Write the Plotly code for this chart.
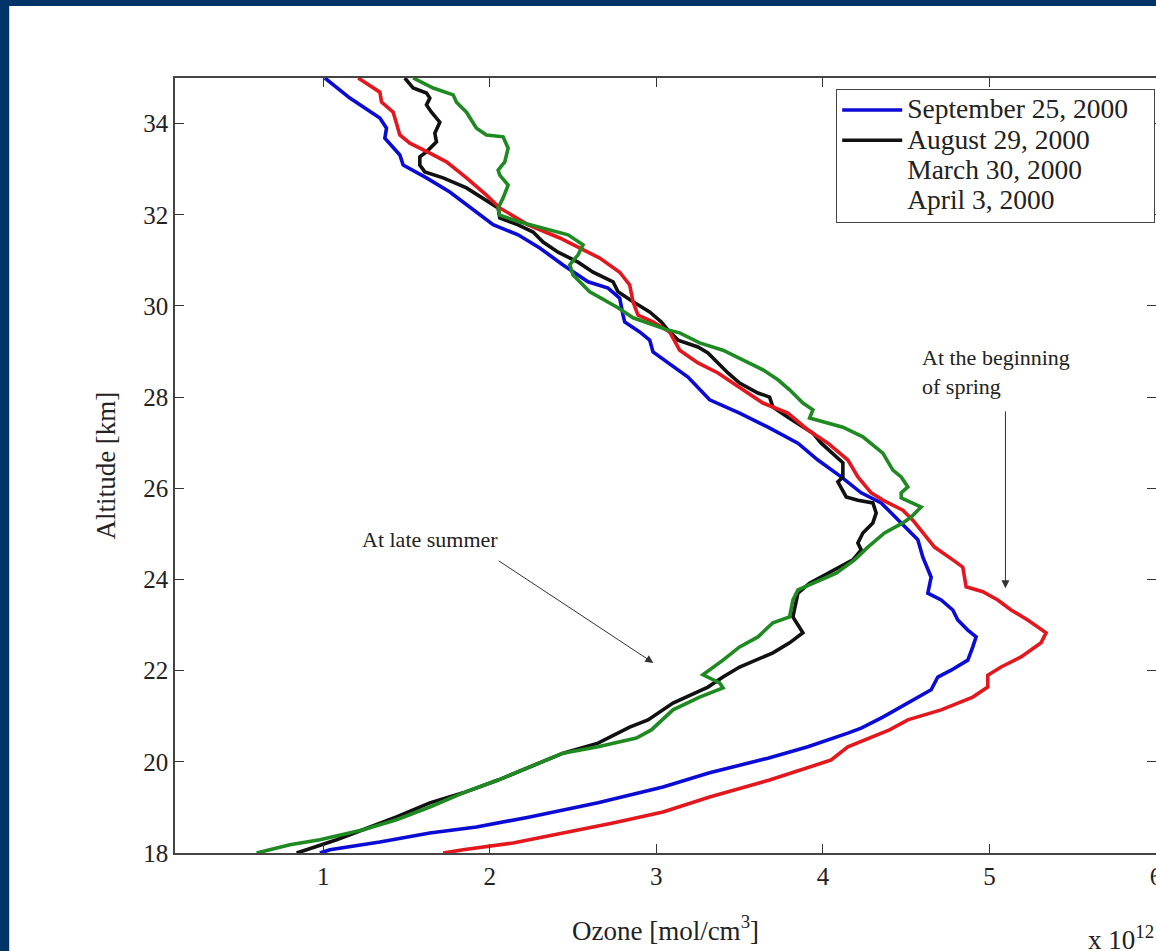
import plotly.graph_objects as go

# ---------------- data (ozone in 1e12 mol/cm^3, altitude in km) ----------------
alt_sep25 = [35.0, 34.56, 34.12, 33.90, 33.68, 33.31, 33.09, 32.81, 32.50, 32.06, 31.78, 31.56, 31.27,
             30.90, 30.53, 30.39, 30.17, 29.80, 29.65, 29.43, 29.25, 28.99, 28.44, 27.94, 27.65, 27.34,
             26.99, 26.62, 26.25, 25.90, 25.68, 25.24, 24.87, 24.49, 24.05, 23.70, 23.55, 23.33, 23.11,
             22.89, 22.74, 22.52, 22.23, 22.01, 21.86, 21.58, 21.29, 20.98, 20.74, 20.63, 20.33, 20.08,
             19.76, 19.45, 19.10, 18.79, 18.57, 18.44, 18.24, 18.07, 18.0]
oz_sep25 = [1.01, 1.16, 1.34, 1.38, 1.37, 1.46, 1.48, 1.62, 1.76, 1.92, 2.02, 2.17, 2.30,
            2.44, 2.59, 2.71, 2.78, 2.80, 2.81, 2.90, 2.96, 2.98, 3.19, 3.32, 3.50, 3.67,
            3.85, 3.97, 4.11, 4.23, 4.35, 4.47, 4.57, 4.60, 4.65, 4.63, 4.71, 4.78, 4.81,
            4.87, 4.92, 4.90, 4.87, 4.77, 4.69, 4.65, 4.51, 4.36, 4.23, 4.15, 3.91, 3.67,
            3.32, 3.04, 2.65, 2.24, 1.92, 1.64, 1.34, 1.04, 0.98]

alt_aug29 = [35.0, 34.78, 34.67, 34.56, 34.41, 34.25, 34.03, 33.79, 33.60, 33.38, 33.27, 33.09, 32.94,
             32.81, 32.59, 32.28, 32.15, 31.93, 31.78, 31.62, 31.40, 31.18, 30.96, 30.74, 30.53, 30.31,
             30.09, 29.87, 29.65, 29.47, 29.25, 29.10, 28.97, 28.75, 28.53, 28.31, 28.09, 28.00, 27.78,
             27.56, 27.34, 27.21, 26.99, 26.77, 26.56, 26.25, 26.14, 25.81, 25.74, 25.68, 25.46, 25.24,
             25.02, 24.80, 24.65, 24.43, 24.14, 23.92, 23.70, 23.18, 22.83, 22.61, 22.39, 22.08, 21.86,
             21.64, 21.29, 20.92, 20.76, 20.41, 20.19, 19.89, 19.60, 19.32, 19.10, 18.79, 18.51, 18.29,
             18.13, 18.0]
oz_aug29 = [1.49, 1.54, 1.62, 1.64, 1.62, 1.65, 1.70, 1.67, 1.68, 1.62, 1.58, 1.58, 1.61,
            1.72, 1.86, 2.00, 2.05, 2.06, 2.17, 2.26, 2.32, 2.41, 2.53, 2.62, 2.74, 2.77,
            2.86, 2.96, 3.03, 3.07, 3.13, 3.25, 3.31, 3.37, 3.43, 3.50, 3.61, 3.68, 3.70,
            3.79, 3.88, 3.94, 3.99, 4.06, 4.12, 4.12, 4.09, 4.14, 4.21, 4.30, 4.32, 4.30,
            4.24, 4.21, 4.23, 4.18, 4.03, 3.92, 3.85, 3.82, 3.88, 3.80, 3.70, 3.50, 3.40,
            3.31, 3.10, 2.95, 2.84, 2.65, 2.44, 2.24, 2.05, 1.84, 1.64, 1.44, 1.24, 1.08,
            0.95, 0.84]

alt_mar30 = [35.0, 34.69, 34.47, 34.25, 33.75, 33.57, 33.35, 33.16, 32.81, 32.43, 32.15, 31.78, 31.49,
             31.23, 31.05, 30.74, 30.46, 30.09, 29.80, 29.65, 29.43, 29.03, 28.75, 28.53, 28.22, 27.87,
             27.65, 27.28, 26.99, 26.62, 26.25, 25.90, 25.74, 25.52, 25.30, 25.02, 24.71, 24.43, 24.27,
             23.84, 23.73, 23.55, 23.33, 23.11, 22.83, 22.61, 22.30, 22.08, 21.90, 21.64, 21.42, 21.14,
             20.92, 20.70, 20.33, 20.04, 19.60, 19.23, 18.90, 18.66, 18.44, 18.22, 18.07, 18.0]
oz_mar30 = [1.21, 1.34, 1.35, 1.42, 1.46, 1.52, 1.64, 1.74, 1.86, 1.98, 2.06, 2.23, 2.42,
            2.56, 2.66, 2.78, 2.84, 2.86, 2.89, 2.98, 3.08, 3.14, 3.25, 3.37, 3.50, 3.64,
            3.79, 3.91, 4.03, 4.15, 4.21, 4.29, 4.36, 4.48, 4.54, 4.60, 4.67, 4.78, 4.84,
            4.86, 4.96, 5.05, 5.13, 5.23, 5.34, 5.31, 5.19, 5.07, 4.99, 4.99, 4.90, 4.71,
            4.51, 4.40, 4.15, 4.05, 3.68, 3.32, 3.04, 2.74, 2.44, 2.14, 1.84, 1.72]

alt_apr03 = [35.0, 34.78, 34.63, 34.47, 34.25, 33.90, 33.75, 33.71, 33.46, 33.16, 32.98, 32.87, 32.65,
             32.37, 32.15, 31.99, 31.84, 31.71, 31.56, 31.34, 31.12, 30.90, 30.68, 30.31, 29.96, 29.74,
             29.69, 29.58, 29.47, 29.41, 29.19, 29.03, 28.81, 28.60, 28.38, 28.16, 27.87, 27.72, 27.54,
             27.43, 27.34, 27.13, 26.77, 26.40, 26.25, 26.03, 25.90, 25.79, 25.59, 25.37, 25.24, 25.02,
             24.71, 24.43, 24.14, 23.77, 23.55, 23.18, 23.05, 22.74, 22.52, 22.23, 21.91, 21.73, 21.62,
             21.42, 21.14, 20.70, 20.52, 20.33, 20.19, 19.89, 19.60, 19.32, 19.01, 18.73, 18.51, 18.29,
             18.18, 18.0]
oz_apr03 = [1.54, 1.66, 1.78, 1.80, 1.86, 1.92, 1.98, 2.08, 2.11, 2.09, 2.05, 2.06, 2.11,
            2.08, 2.05, 2.06, 2.18, 2.32, 2.47, 2.56, 2.53, 2.48, 2.50, 2.60, 2.77, 2.86,
            2.90, 2.98, 3.07, 3.14, 3.26, 3.40, 3.52, 3.64, 3.73, 3.80, 3.88, 3.94, 3.92,
            4.03, 4.12, 4.24, 4.36, 4.42, 4.47, 4.51, 4.47, 4.47, 4.59, 4.53, 4.48, 4.37,
            4.27, 4.19, 4.08, 3.85, 3.82, 3.80, 3.70, 3.61, 3.50, 3.40, 3.28, 3.38, 3.40,
            3.26, 3.10, 2.97, 2.88, 2.65, 2.44, 2.24, 2.05, 1.84, 1.64, 1.44, 1.24, 0.98,
            0.80, 0.60]

series_names = ["September 25, 2000", "August 29, 2000", "March 30, 2000", "April 3, 2000"]
x_ticks = [1, 2, 3, 4, 5, 6]
y_ticks = [18, 20, 22, 24, 26, 28, 30, 32, 34]

# ---------------- styling ----------------
FONT = "Liberation Serif, Times New Roman, serif"
NAVY = "#003468"
BLUE = "#0b0bd6"
BLACK = "#111111"
RED = "#e3171d"
GREEN = "#1f8a22"
LW = 3.6


def legend_label(s, pad=0):
    return '<span style="font-size:27.5px">' + s + "\u00a0" * pad + '</span>'


fig = go.Figure()
fig.add_trace(go.Scatter(x=oz_sep25, y=alt_sep25, mode="lines", name=legend_label(series_names[0], 3),
                         line=dict(color=BLUE, width=LW)))
fig.add_trace(go.Scatter(x=oz_aug29, y=alt_aug29, mode="lines", name=legend_label(series_names[1]),
                         line=dict(color=BLACK, width=LW)))
# legend entries without a visible sample (as in the original figure)
fig.add_trace(go.Scatter(x=[None], y=[None], mode="lines", name=legend_label(series_names[2]),
                         line=dict(color="rgba(0,0,0,0)", width=LW)))
fig.add_trace(go.Scatter(x=[None], y=[None], mode="lines", name=legend_label(series_names[3]),
                         line=dict(color="rgba(0,0,0,0)", width=LW)))
fig.add_trace(go.Scatter(x=oz_mar30, y=alt_mar30, mode="lines", name=series_names[2],
                         line=dict(color=RED, width=LW), showlegend=False))
fig.add_trace(go.Scatter(x=oz_apr03, y=alt_apr03, mode="lines", name=series_names[3],
                         line=dict(color=GREEN, width=LW), showlegend=False))

axis_common = dict(
    ticks="inside", ticklen=9, tickwidth=1, tickcolor="#333",
    showline=True, linecolor="#444", linewidth=1.5, mirror="ticks",
    showgrid=False, zeroline=False, ticklabelstandoff=0, automargin=False,
    tickfont=dict(family=FONT, size=25, color="#222"),
)

fig.update_layout(
    width=1156, height=951,
    margin=dict(l=175, r=0, t=78, b=98),
    paper_bgcolor="white", plot_bgcolor="white",
    font=dict(family=FONT, color="#222"),
    xaxis=dict(range=[0.11, 6.0], tickvals=x_ticks, ticklabeloverflow="allow",
               title=dict(text="Ozone [mol/cm<sup>3</sup>]", font=dict(family=FONT, size=27),
                          standoff=32),
               **axis_common),
    yaxis=dict(range=[18, 35], tickvals=y_ticks,
               title=dict(text="Altitude [km]", font=dict(family=FONT, size=27), standoff=20),
               **axis_common),
    legend=dict(x=0.674, y=0.986, xanchor="left", yanchor="top",
                bgcolor="white", bordercolor="#444", borderwidth=1,
                font=dict(family=FONT, size=21, color="#222"),
                itemwidth=60, tracegroupgap=0),
    showlegend=True,
    shapes=[
        # dark frame of the original slide: left and top bands
        dict(type="rect", xref="paper", yref="paper", layer="below",
             x0=-0.2, x1=-0.169, y0=-0.2, y1=1.2, fillcolor=NAVY, line=dict(width=0)),
        dict(type="rect", xref="paper", yref="paper", layer="below",
             x0=-0.2, x1=1.2, y0=1.0929, y1=1.2, fillcolor=NAVY, line=dict(width=0)),
    ],
)

ann_font = dict(family=FONT, size=22, color="#222")
fig.add_annotation(x=4.586, y=29.18, xref="x", yref="y", xanchor="left", yanchor="top",
                   text="At the beginning<br>of spring", showarrow=False, align="left", font=ann_font)
fig.add_annotation(x=5.096, y=23.81, ax=5.096, ay=27.72, xref="x", yref="y", axref="x", ayref="y",
                   text="", showarrow=True, arrowhead=2, arrowsize=1.6, arrowwidth=1, arrowcolor="#333")
fig.add_annotation(x=1.222, y=24.87, xref="x", yref="y", xanchor="left", yanchor="middle",
                   text="At late summer", showarrow=False, font=ann_font)
fig.add_annotation(x=2.982, y=22.17, ax=2.045, ay=24.43, xref="x", yref="y", axref="x", ayref="y",
                   text="", showarrow=True, arrowhead=2, arrowsize=1.6, arrowwidth=1, arrowcolor="#333")
fig.add_annotation(x=0.929, y=-0.11, xref="paper", yref="paper", xanchor="left", yanchor="middle",
                   text="x 10<sup>12</sup>", showarrow=False,
                   font=dict(family=FONT, size=27, color="#222"))

fig.write_html("out.html", config={"displayModeBar": False},
               post_script="document.body.style.margin='0';document.body.style.overflow='hidden';"
                           "document.body.style.background='white';")
